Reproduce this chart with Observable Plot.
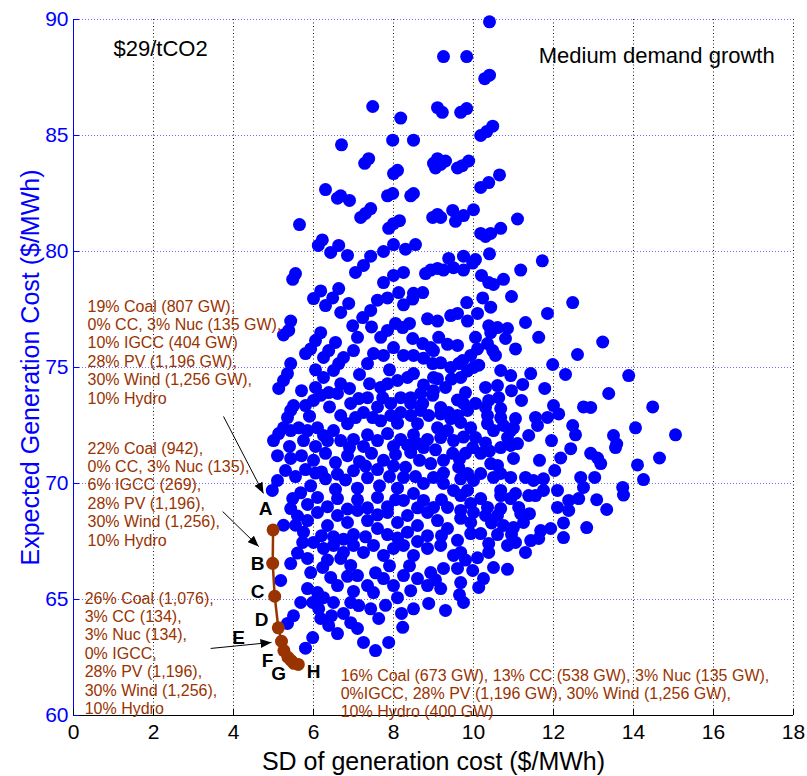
<!DOCTYPE html>
<html>
<head>
<meta charset="utf-8">
<script src="https://cdn.jsdelivr.net/npm/d3@7"></script>
<script src="https://cdn.jsdelivr.net/npm/@observablehq/plot@0.6"></script>
<style>
  html, body { margin: 0; padding: 0; background: white; }
</style>
</head>
<body>
<script>
// [SD of generation cost ($/MWh), Expected generation cost ($/MWh)]
const portfolios = [
[10.4,89.9],[9.25,88.4],[9.83,88.4],[10.28,87.45],[10.4,87.6],
[7.48,86.25],[9.1,86.2],[9.22,86.0],[9.68,86.0],[9.83,86.16],[8.18,85.75],
[10.18,85.0],[10.33,85.17],[10.48,85.4],
[6.7,84.6],[7.98,84.8],[8.5,84.8],[7.28,83.8],[7.38,84.0],[8.0,83.36],[8.1,83.5],
[9.0,83.8],[9.1,84.0],[9.18,83.75],[9.3,83.9],[9.05,83.6],[9.6,83.6],[9.72,83.7],[9.88,83.9],
[10.18,82.76],[10.38,82.97],[10.65,83.3],
[6.3,82.67],[6.6,82.3],[6.68,82.4],[6.9,82.2],[7.85,82.4],[7.98,82.5],[8.43,82.4],[8.5,82.5],
[7.18,81.47],[7.3,81.64],[7.43,81.85],[7.88,81.0],[8.0,81.2],[8.15,81.33],
[8.98,81.47],[9.1,81.6],[9.18,81.47],[9.48,81.77],[9.55,81.3],[9.75,81.55],[10.0,81.8],
[5.65,81.16],[11.1,81.4],[10.68,81.0],[10.18,80.78],[10.3,80.65],[10.43,80.78],
[6.22,80.5],[6.12,80.26],[6.63,80.26],[7.75,80.0],[8.0,80.3],[8.3,80.1],[8.55,80.3],
[6.43,79.96],[6.85,79.83],[7.43,79.8],[9.38,79.7],[9.75,79.8],[10.05,79.65],[10.4,79.9],[11.72,79.6],
[7.25,79.4],[7.05,79.1],[5.48,78.8],[5.55,79.05],[8.25,79.1],[8.8,79.05],[8.93,79.2],[9.1,79.27],[9.25,79.2],[9.5,79.3],[9.75,79.2],[9.98,79.5],[10.2,78.97],[11.18,79.2],[7.75,78.66],[8.0,78.97],[6.63,78.4],[10.75,78.8],[10.38,78.66],[10.5,78.58],
[6.0,77.97],[6.18,78.3],[6.3,77.67],[6.48,78.0],[6.88,77.76],[7.6,77.9],[7.85,78.0],[8.13,78.23],[8.25,77.7],[8.48,77.95],[8.73,78.23],[8.5,78.2],[10.95,78.06],[10.23,78.0],[9.83,77.8],[10.43,77.6],[12.48,77.8],[7.43,77.46],
[6.68,77.37],[8.85,77.1],[9.1,77.0],[9.43,77.24],[9.6,77.33],[9.85,77.0],[10.1,77.33],[11.85,77.33],[11.3,76.94],[5.43,77.0],[5.38,76.6],[7.23,77.15],[6.98,76.8],[8.05,76.9],[7.85,76.6],[8.23,76.72],[10.38,76.8],[10.6,76.72],[10.85,76.68],[6.18,76.5],
[5.25,76.4],[6.05,76.16],[5.93,75.8],[5.8,75.6],[6.55,76.08],[6.38,75.73],[7.0,75.73],[7.68,76.3],[8.48,76.25],[8.73,76.03],[8.93,75.86],[9.13,76.3],[7.5,75.6],[9.0,75.73],[9.6,75.95],[9.93,75.52],[10.43,76.5],[10.35,76.03],[10.48,75.73],[10.8,76.25],[11.05,75.8],[11.63,76.3],[13.23,76.1],[12.6,75.56],[8.0,75.86],
[6.25,75.43],[6.75,75.43],[6.63,75.17],[6.5,74.87],[7.35,75.17],[7.75,75.52],[8.25,75.52],[8.5,75.52],[8.75,75.4],[8.98,75.17],[9.18,75.2],[9.43,75.0],[9.63,75.17],[9.73,75.3],[10.13,75.1],[10.55,75.52],[10.68,74.87],[10.0,75.0],[5.43,75.17],[5.35,74.74],[6.25,74.57],[8.5,74.74],[8.35,74.57],[9.0,74.57],[9.68,74.57],[10.93,74.65],[11.98,75.13],[12.3,74.7],[11.43,74.74],[13.88,74.65],
[5.25,74.44],[5.13,74.1],[6.05,74.14],[6.68,74.3],[6.6,73.88],[6.38,73.92],[6.18,73.8],[7.68,74.14],[7.85,74.3],[8.1,74.44],[9.1,74.52],[9.3,74.14],[9.0,74.0],[8.68,73.88],[8.18,73.7],[7.73,73.7],[8.43,73.7],[8.98,73.8],[9.8,73.92],[10.63,73.7],[10.3,74.14],[10.6,74.22],[10.95,74.0],[11.23,74.27],[11.2,73.58],[11.78,74.1],[13.38,73.88],[7.35,73.7],[7.13,73.66],[6.0,73.58],[10.38,73.58],
[5.5,73.36],[5.43,73.15],[5.8,73.36],[6.93,73.45],[7.93,73.45],[8.43,73.45],[8.73,73.45],[9.18,73.28],[9.38,73.06],[9.6,72.93],[9.75,73.45],[10.05,73.45],[10.3,73.28],[10.68,73.23],[9.85,73.15],[9.18,73.0],[9.43,72.8],[10.35,72.93],[10.75,72.5],[11.0,72.4],[10.68,72.84],[10.35,72.58],[9.68,72.63],[5.35,72.84],[6.68,72.93],[6.85,72.58],[7.05,72.84],[7.25,73.06],[7.48,72.84],[7.68,72.7],[8.18,73.06],[8.68,73.15],[8.88,72.93],[7.93,72.93],[8.43,72.93],[11.55,72.85],[11.6,72.5],[11.05,72.8],[11.85,72.85],[12.0,73.36],[12.13,73.0],[12.75,73.3],[12.93,73.28],[14.48,73.3],[12.48,72.5],[8.6,72.58],
[5.25,72.4],[5.13,72.15],[5.0,71.85],[5.43,72.28],[5.63,72.4],[5.85,72.28],[6.1,72.4],[6.25,72.07],[6.5,72.28],[6.68,71.85],[7.0,71.9],[7.35,72.1],[7.6,71.85],[7.85,72.15],[8.18,71.9],[8.5,72.1],[8.85,71.9],[9.1,72.4],[9.18,71.98],[9.35,72.28],[9.5,71.85],[9.93,72.4],[10.05,71.98],[10.5,72.28],[10.93,72.28],[10.85,71.98],[11.38,72.07],[11.95,71.85],[12.55,72.1],[13.5,72.07],[13.58,71.7],[14.05,72.4],[15.05,72.1],[10.93,71.64],[11.1,71.72],[8.6,71.72],[8.75,71.55],[9.98,71.55],[10.68,71.55],[5.75,71.85],[6.35,71.85],
[5.1,71.2],[5.43,71.08],[5.3,70.56],[5.7,71.2],[6.0,71.0],[6.3,71.3],[6.55,70.9],[6.85,71.2],[7.15,70.95],[7.45,71.3],[7.75,71.0],[8.05,71.25],[8.43,71.34],[8.93,70.86],[9.25,71.0],[9.48,71.3],[9.63,70.7],[9.8,71.3],[10.18,71.3],[10.43,70.86],[10.6,70.78],[11.0,71.08],[11.65,71.0],[12.18,71.1],[12.43,71.5],[12.93,71.3],[13.1,71.1],[13.18,70.86],[13.55,71.55],[14.65,71.1],[14.1,70.8],[12.03,70.56],[5.8,70.6],[6.2,70.5],[7.0,70.55],[7.6,70.6],[8.3,70.7],[8.65,71.0],
[5.1,70.13],[4.97,69.7],[5.68,69.6],[5.55,70.3],[5.93,69.9],[6.3,70.2],[6.55,69.75],[6.8,70.15],[7.1,69.8],[7.35,70.25],[7.65,69.9],[7.9,70.3],[8.1,69.8],[8.25,70.26],[8.5,69.57],[9.0,70.26],[9.25,70.0],[9.5,69.7],[9.85,70.43],[9.85,69.7],[10.18,70.43],[10.0,70.13],[10.5,70.26],[10.68,69.7],[9.68,70.2],[10.68,70.43],[10.93,70.26],[11.3,70.26],[11.5,70.13],[11.75,70.2],[11.75,69.7],[11.55,69.48],[12.1,69.7],[12.68,70.26],[12.75,69.83],[13.03,70.26],[14.25,70.17],[13.73,69.83],[13.75,69.5],[11.05,69.57],[8.75,70.0],
[5.48,69.35],[5.43,68.92],[5.85,69.1],[6.1,69.4],[6.35,69.0],[6.6,69.35],[6.85,68.9],[7.1,69.3],[7.35,68.95],[7.6,69.4],[7.85,69.0],[8.05,69.3],[8.25,69.27],[8.75,69.27],[9.0,68.97],[9.35,68.97],[9.68,68.84],[9.93,69.14],[9.68,69.48],[10.18,69.35],[10.35,68.97],[10.68,69.48],[10.93,69.35],[11.13,68.97],[10.68,68.92],[11.18,68.7],[11.38,69.48],[12.38,69.27],[12.63,69.35],[13.08,69.3],[13.33,68.88],[12.1,68.97],[12.38,68.84],[9.68,68.5],[10.3,68.62],[10.6,68.62],[6.1,68.75],[6.6,68.62],[7.1,68.84],[7.85,68.75],[8.35,68.62],[8.85,68.75],[5.85,68.4],
[5.25,68.2],[5.55,68.2],[5.75,67.9],[6.35,68.19],[6.85,68.32],[7.35,68.4],[7.6,68.06],[8.1,68.32],[8.6,68.19],[9.1,68.4],[9.35,68.06],[9.93,68.32],[10.75,68.19],[11.0,68.1],[11.25,68.32],[11.93,68.06],[11.68,67.97],[11.63,67.63],[12.25,68.3],[12.25,67.67],[12.83,68.1],[9.93,67.84],[10.18,67.84],[6.0,67.46],[5.73,67.46],[6.5,67.7],[7.0,67.8],[7.85,67.8],[8.35,67.9],[8.85,67.75],
[5.6,67.0],[5.85,66.77],[6.25,67.2],[6.5,67.33],[6.75,67.03],[7.0,67.33],[7.25,67.03],[7.5,67.33],[7.75,66.9],[8.0,67.2],[8.25,67.33],[8.5,66.9],[8.85,67.2],[9.18,67.33],[9.5,66.9],[9.68,67.03],[10.38,67.41],[10.38,67.03],[10.85,67.33],[11.05,67.46],[11.3,67.03],[11.43,67.54],[5.43,66.55],[6.68,66.77],[6.93,66.47],
[5.18,65.82],[5.93,66.16],[6.23,66.38],[6.43,65.95],[6.6,65.6],[7.1,66.03],[7.35,65.6],[7.75,65.9],[8.0,65.6],[8.25,66.03],[8.6,65.9],[8.93,66.16],[9.25,66.34],[9.6,66.34],[9.98,66.25],[10.25,65.9],[10.5,66.38],[10.85,66.3],[9.68,65.73],[8.85,65.6],
[5.68,64.87],[5.98,64.87],[6.13,64.6],[6.25,65.08],[6.5,64.87],[5.85,65.47],[6.1,65.3],[6.93,64.87],[7.13,64.74],[7.43,64.6],[7.5,65.3],[8.1,65.08],[8.43,65.38],[8.5,64.6],[8.88,64.83],[9.18,65.47],[9.3,64.53],[9.75,64.87],[10.13,65.52],[6.75,64.4],
[5.5,64.3],[5.35,63.97],[5.98,63.36],[5.8,62.9],[6.18,64.18],[6.38,63.88],[6.6,63.53],[6.93,64.0],[7.1,63.75],[7.25,63.15],[7.55,62.8],[7.88,63.15],[8.23,63.8],[7.63,64.18],
[6.85,66.0],[7.55,66.15],[8.4,66.45],[9.05,65.85],[9.8,66.7],[10.1,66.8],[7.9,66.45],[6.35,66.7],
[6.2,67.75],[6.75,67.6],[7.3,67.7],[8.1,67.65],[8.6,67.5],[9.2,67.75],[9.6,67.55],[10.6,67.8],[10.95,67.8],
[5.6,68.6],[7.6,68.65],[8.6,68.95],[9.2,69.3],[10.0,68.75],[10.45,68.3],[11.4,68.7],
[6.05,70.45],[6.6,70.4],[7.3,70.75],[8.0,70.75],[8.55,70.3],[9.25,70.45],[9.65,71.05],[10.3,71.75],
[5.4,71.6],[6.05,71.6],[6.9,71.55],[7.25,71.6],[8.0,71.6],[8.35,71.65],[9.05,71.45],[9.75,72.0],[10.4,71.4],
[5.9,72.9],[6.4,73.3],[7.6,73.3],[8.1,72.6],[9.6,73.6],[9.45,74.5],[8.75,74.25],[7.4,74.3],[6.9,74.1],[5.7,74.0],[7.15,74.7],[7.9,74.9],[9.85,74.85],[6.05,74.9],
[7.8,64.75],[8.2,64.4],[9.65,65.2],[6.45,64.3],[7.0,65.35],
[9.35,76.0],[10.05,76.3],[10.1,75.8],[7.45,76.75],[8.4,76.9],[7.1,76.3]
];

// efficient frontier A..H (brown)
const frontier = [
[4.99,68.0],[4.98,66.56],[5.03,65.14],[5.12,63.78],[5.2,63.2],[5.26,62.8],[5.36,62.51],[5.44,62.37],[5.51,62.25],[5.62,62.2]
];

const frontierLetters = ["A","B","C","D","E","F","G","H"];
const letterSD   = [4.8, 4.6, 4.6, 4.7, 4.13, 4.85, 5.13, 6.0];
const letterCost = [68.92, 66.55, 65.34, 64.14, 63.36, 62.37, 61.81, 61.9];

const noteTexts = [
  "19% Coal (807 GW),\n0% CC, 3% Nuc (135 GW),\n10% IGCC (404 GW)\n28% PV (1,196 GW),\n30% Wind (1,256 GW),\n10% Hydro",
  "22% Coal (942),\n0% CC, 3% Nuc (135),\n6% IGCC (269),\n28% PV (1,196),\n30% Wind (1,256),\n10% Hydro",
  "26% Coal (1,076),\n3% CC (134),\n3% Nuc (134),\n0% IGCC,\n28% PV (1,196),\n30% Wind (1,256),\n10% Hydro",
  "16% Coal (673 GW), 13% CC (538 GW), 3% Nuc (135 GW),\n0%IGCC, 28% PV (1,196 GW), 30% Wind (1,256 GW),\n10% Hydro (400 GW)"
];
const noteSD   = [0.35, 0.35, 0.28, 6.68];
const noteCost = [77.97, 71.85, 65.39, 62.07];

// arrows: [sd1, cost1, sd2, cost2]
const arrowSegs = [
  [3.75, 72.89, 4.75, 69.57],
  [3.73, 68.79, 4.63, 67.28],
  [3.43, 62.89, 4.95, 63.15]
];

const xTicks = [0,2,4,6,8,10,12,14,16,18];
const yTicks = [60,65,70,75,80,85,90];
const xGrid = [2,4,6,8,10,12,14,16,18];
const yGrid = [65,70,75,80,85,90];

const BLUE = "#0000ff";
const BROWN = "#993300";

const letters = frontierLetters.map((t,i) => ({t, x: letterSD[i], y: letterCost[i]}));
const notes = noteTexts.map((t,i) => ({t, x: noteSD[i], y: noteCost[i]}));
const arrows = arrowSegs.map(a => ({x1:a[0], y1:a[1], x2:a[2], y2:a[3]}));

const chart = Plot.plot({
  width: 807,
  height: 776,
  marginLeft: 73,
  marginRight: 14,
  marginTop: 19,
  marginBottom: 61,
  x: {domain: [0, 18]},
  y: {domain: [60, 90]},
  style: {fontFamily: "'Liberation Sans', Arial, sans-serif", background: "white"},
  marks: [
    Plot.ruleX(xGrid, {x: d => d, stroke: "#222", strokeDasharray: "1,2.5", strokeWidth: 1}),
    Plot.ruleY(yGrid, {y: d => d, stroke: "#6a6aff", strokeDasharray: "1,2", strokeWidth: 1}),
    Plot.ruleX([0], {stroke: BLUE, strokeWidth: 1}),
    Plot.ruleY([60], {stroke: "black", strokeWidth: 1}),
    Plot.tickY(yTicks, {y: d => d, stroke: BLUE, insetRight: 714}),
    Plot.tickX(xTicks, {x: d => d, stroke: "black", insetTop: 690}),
    Plot.axisY(yTicks, {tickSize: 0, tickPadding: 5, fontSize: 21, fill: BLUE, label: null}),
    Plot.axisX(xTicks, {tickSize: 0, tickPadding: 9, fontSize: 21, fill: "black", label: null}),
    Plot.dot(portfolios, {x: d => d[0], y: d => d[1], r: 6.5, fill: BLUE}),
    Plot.line(frontier, {x: d => d[0], y: d => d[1], stroke: BROWN, strokeWidth: 2.5}),
    Plot.dot(frontier, {x: d => d[0], y: d => d[1], r: 6.5, fill: BROWN}),
    Plot.link(arrows, {x1: "x1", y1: "y1", x2: "x2", y2: "y2", stroke: "black", strokeWidth: 1}),
    Plot.text(letters, {x: "x", y: "y", text: "t", fontSize: 19, fontWeight: "bold", fill: "black"}),
    Plot.text(notes, {x: "x", y: "y", text: "t", textAnchor: "start", lineAnchor: "top", fontSize: 16, lineHeight: 1.15, fill: BROWN}),
    Plot.text(["$29/tCO2"], {x: 1.0, y: 88.75, text: d => d, textAnchor: "start", fontSize: 22, fill: "black"}),
    Plot.text(["Medium demand growth"], {x: 11.63, y: 88.45, text: d => d, textAnchor: "start", fontSize: 22, fill: "black"}),
    Plot.text(["Expected Generation Cost ($/MWh)"], {frameAnchor: "left", dx: -43, rotate: -90, textAnchor: "middle", lineAnchor: "middle", text: d => d, fontSize: 25, fill: BLUE}),
    Plot.text(["SD of generation cost ($/MWh)"], {frameAnchor: "bottom", dy: 46, textAnchor: "middle", lineAnchor: "middle", text: d => d, fontSize: 25, fill: "black"})
  ]
});

// filled arrowheads
const ns = "http://www.w3.org/2000/svg";
const defs = document.createElementNS(ns, "defs");
const marker = document.createElementNS(ns, "marker");
marker.setAttribute("id", "ahead");
marker.setAttribute("viewBox", "0 0 11 9");
marker.setAttribute("refX", "11");
marker.setAttribute("refY", "4.5");
marker.setAttribute("markerWidth", "11");
marker.setAttribute("markerHeight", "9");
marker.setAttribute("markerUnits", "userSpaceOnUse");
marker.setAttribute("orient", "auto");
const mp = document.createElementNS(ns, "path");
mp.setAttribute("d", "M0,0L11,4.5L0,9Z");
mp.setAttribute("fill", "black");
marker.appendChild(mp);
defs.appendChild(marker);
chart.insertBefore(defs, chart.firstChild);
chart.querySelectorAll('g[aria-label="link"] path').forEach(p => p.setAttribute("marker-end", "url(#ahead)"));

document.body.appendChild(chart);
</script>
</body>
</html>
